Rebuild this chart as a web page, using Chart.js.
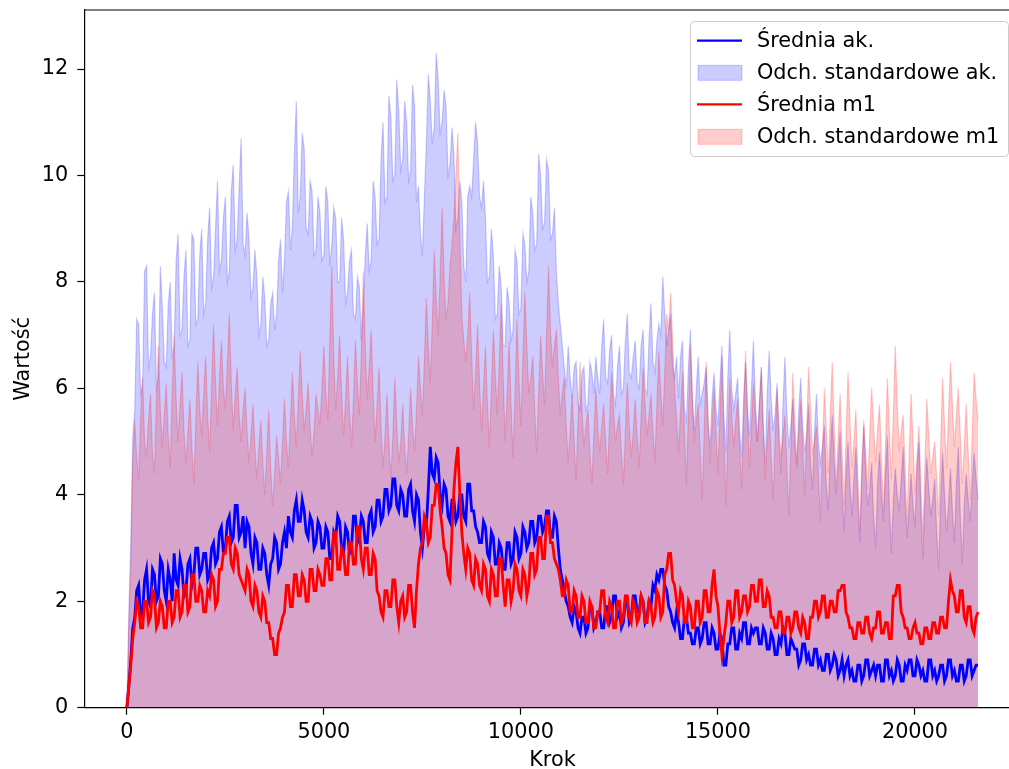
<!DOCTYPE html>
<html>
<head>
<meta charset="utf-8">
<script src="https://cdn.jsdelivr.net/npm/chart.js@4.4.1/dist/chart.umd.min.js"></script>
<style>
  body { margin: 0; background: #fff; }
  #wrap { width: 1009px; height: 769px; overflow: hidden; }
</style>
</head>
<body>
<div id="wrap"><canvas id="chart" width="1022" height="769"></canvas></div>
<script>
// one sample every 50 steps, 0 .. 21600
const STEP = 50

// mean of "ak." run
const meanAk = [
  0, 0.4, 0.9, 1.5, 1.7, 2.2, 2.3, 1.7, 1.8, 2.4, 2.6, 2.0, 1.9, 2.6, 2.5, 2.0, 2.1, 2.8, 2.7, 2.2,
  2.0, 2.6, 2.4, 2.0, 2.9, 2.4, 2.3, 2.8, 2.6, 2.1, 2.2, 2.7, 2.8, 2.3, 2.5, 3.0, 3.0, 2.5, 2.6, 2.9,
  2.9, 2.4, 2.5, 3.0, 3.1, 2.7, 2.8, 3.3, 3.4, 2.9, 3.0, 3.5, 3.6, 3.1, 3.2, 3.8, 3.8, 3.2, 3.3, 3.6,
  3.0, 3.5, 3.4, 2.9, 2.7, 3.2, 3.1, 2.6, 2.6, 3.0, 2.9, 2.5, 2.3, 2.7, 2.8, 3.2, 3.1, 2.6, 2.7, 3.1,
  3.3, 3.0, 3.6, 3.3, 3.2, 3.7, 3.9, 3.5, 3.5, 3.9, 3.7, 3.3, 3.2, 3.6, 3.5, 3.0, 3.1, 3.5, 3.4, 3.0,
  3.0, 3.4, 3.3, 2.8, 2.8, 3.3, 3.2, 3.6, 3.5, 3.0, 2.9, 3.4, 3.3, 2.9, 3.0, 3.6, 3.6, 3.1, 3.2, 3.6,
  3.5, 3.1, 3.1, 3.6, 3.7, 3.3, 3.4, 3.9, 3.9, 3.5, 3.6, 4.1, 4.1, 3.7, 3.8, 4.3, 4.3, 3.8, 3.7, 4.1,
  4.0, 3.6, 3.6, 4.1, 4.2, 3.7, 3.5, 4.0, 3.9, 3.3, 3.0, 3.4, 3.4, 4.1, 4.9, 4.4, 4.3, 4.7, 4.6, 4.0,
  3.8, 4.2, 4.1, 3.6, 3.5, 3.9, 3.9, 3.5, 3.6, 4.0, 4.0, 3.6, 3.5, 4.2, 4.2, 3.7, 3.7, 3.4, 3.3, 3.1,
  3.1, 3.5, 3.4, 2.9, 2.8, 3.3, 3.2, 2.7, 2.7, 3.1, 3.0, 2.6, 2.6, 3.1, 3.1, 2.7, 2.8, 3.3, 3.2, 2.8,
  2.9, 3.4, 3.3, 3.0, 3.1, 3.5, 3.5, 3.1, 3.2, 3.6, 3.6, 3.3, 3.4, 3.7, 3.7, 3.2, 3.2, 3.6, 3.5, 3.0,
  2.6, 2.4, 2.2, 2.0, 1.9, 1.7, 1.6, 1.9, 1.8, 1.5, 1.4, 1.7, 1.7, 1.4, 1.5, 1.9, 1.9, 1.5, 1.6, 1.8,
  1.8, 1.5, 1.5, 1.9, 1.9, 1.6, 1.7, 2.1, 2.1, 1.7, 1.8, 1.5, 1.6, 2.0, 2.0, 1.6, 1.7, 2.1, 2.1, 1.8,
  1.8, 2.1, 2.0, 1.6, 1.7, 2.0, 1.9, 2.3, 2.2, 2.5, 2.4, 2.6, 2.6, 2.3, 2.2, 1.9, 1.8, 1.6, 1.5, 1.8,
  1.6, 1.3, 1.3, 1.7, 1.7, 1.4, 1.4, 1.2, 1.2, 1.5, 1.5, 1.2, 1.3, 1.6, 1.6, 1.2, 1.2, 1.5, 1.4, 1.1,
  1.1, 1.4, 1.3, 0.8, 0.8, 1.2, 1.2, 1.5, 1.5, 1.1, 1.1, 1.4, 1.3, 1.6, 1.6, 1.2, 1.2, 1.5, 1.4, 1.5,
  1.5, 1.2, 1.2, 1.5, 1.4, 1.1, 1.1, 1.4, 1.3, 1.0, 1.0, 1.3, 1.2, 1.5, 1.4, 1.0, 1.0, 1.3, 1.2, 1.1,
  1.1, 0.8, 0.9, 1.2, 1.2, 0.9, 1.0, 0.8, 0.8, 1.1, 1.1, 0.8, 0.9, 0.7, 0.7, 1.0, 1.0, 0.7, 0.8, 1.0,
  0.9, 0.6, 0.7, 0.9, 0.6, 0.8, 0.9, 0.6, 0.7, 0.5, 0.5, 0.8, 0.8, 0.5, 0.6, 0.9, 0.9, 0.6, 0.7, 0.8,
  0.6, 0.8, 0.8, 0.5, 0.5, 0.9, 0.9, 0.6, 0.7, 0.5, 0.6, 0.9, 0.8, 0.5, 0.5, 0.8, 0.7, 0.9, 0.9, 0.6,
  0.6, 0.9, 0.8, 0.6, 0.7, 0.5, 0.5, 0.9, 0.9, 0.6, 0.7, 0.5, 0.6, 0.8, 0.8, 0.5, 0.6, 0.9, 0.9, 0.6,
  0.7, 0.5, 0.5, 0.8, 0.8, 0.5, 0.6, 0.9, 0.9, 0.6, 0.7, 0.8, 0.8
]

// mean + std of "ak." (the band is filled down to the axis)
const upperAk = [
  0, 1.8, 3.2, 5.1, 5.6, 7.3, 7.2, 5.9, 6.1, 8.2, 8.3, 6.4, 6.6, 7.4, 7.8, 6.0, 6.2, 8.3, 7.5, 6.5,
  6.4, 7.6, 8.0, 6.6, 6.8, 8.4, 8.9, 7.0, 7.1, 8.1, 8.6, 6.8, 6.9, 8.9, 8.8, 7.2, 7.3, 8.5, 9.0, 7.4,
  7.6, 8.8, 9.4, 7.9, 8.1, 9.0, 9.9, 8.2, 8.4, 9.2, 9.6, 8.0, 8.2, 9.7, 10.2, 8.6, 8.8, 9.8, 10.7, 8.7,
  8.5, 9.3, 8.8, 7.7, 7.9, 8.6, 8.1, 7.0, 7.2, 8.1, 7.7, 6.8, 6.9, 7.6, 7.8, 7.1, 7.4, 8.4, 8.8, 7.8,
  8.4, 9.5, 9.7, 8.6, 9.0, 10.4, 11.4, 9.3, 9.6, 10.8, 10.5, 9.0, 8.9, 9.9, 9.7, 8.5, 8.6, 9.6, 9.3, 8.4,
  8.5, 9.8, 9.5, 8.3, 8.7, 9.4, 9.2, 8.0, 8.0, 9.2, 8.8, 7.6, 7.8, 8.4, 8.6, 7.4, 7.3, 8.1, 7.9, 6.9,
  7.6, 8.5, 9.1, 8.2, 8.4, 9.9, 9.6, 8.7, 8.8, 10.3, 11.0, 9.5, 9.6, 11.5, 11.1, 9.9, 10.0, 11.8, 11.2, 10.1,
  10.3, 11.4, 11.0, 9.9, 10.1, 11.7, 11.3, 9.5, 9.8, 8.9, 8.5, 9.6, 10.6, 11.9, 11.4, 10.6, 10.9, 12.3, 11.8, 10.8,
  11.0, 11.6, 11.3, 10.0, 10.2, 10.9, 10.4, 9.0, 9.2, 9.9, 9.5, 8.3, 8.0, 9.6, 9.8, 9.6, 10.3, 11.0, 10.6, 9.6,
  9.4, 9.9, 9.2, 8.0, 8.1, 9.0, 8.5, 7.3, 7.4, 8.3, 7.9, 6.8, 6.8, 7.9, 7.6, 6.9, 7.1, 8.6, 8.4, 7.4,
  7.5, 8.9, 8.7, 8.0, 8.2, 9.6, 9.3, 8.6, 8.7, 10.4, 10.0, 9.0, 9.1, 10.3, 10.1, 8.8, 8.9, 9.4, 8.2, 7.6,
  7.2, 6.8, 6.4, 6.0, 6.8, 6.2, 5.8, 6.4, 6.5, 5.7, 5.6, 6.3, 6.4, 5.6, 5.7, 6.5, 6.3, 5.9, 6.6, 6.2,
  5.9, 6.8, 7.3, 6.2, 6.1, 6.7, 7.0, 5.9, 5.7, 6.4, 6.8, 5.9, 6.0, 6.9, 7.4, 6.3, 6.2, 6.6, 6.9, 6.1,
  6.0, 6.8, 7.1, 6.0, 5.9, 6.9, 7.6, 6.5, 6.3, 6.9, 7.2, 7.0, 8.1, 7.4, 6.8, 7.1, 7.4, 6.4, 6.2, 6.6,
  5.8, 6.6, 6.9, 5.6, 5.4, 6.4, 7.1, 5.8, 5.2, 6.0, 6.6, 5.7, 5.9, 6.1, 6.4, 5.3, 4.9, 5.8, 6.3, 5.6,
  5.3, 6.1, 6.8, 5.5, 4.8, 6.2, 7.1, 6.0, 5.6, 5.9, 6.2, 5.2, 4.7, 5.8, 6.5, 5.6, 5.1, 6.0, 6.9, 5.8,
  5.0, 5.7, 6.4, 5.3, 4.6, 5.9, 6.7, 5.8, 5.2, 5.5, 6.1, 5.0, 4.4, 5.7, 6.6, 5.5, 4.9, 5.3, 5.8, 5.0,
  4.5, 5.6, 6.2, 5.3, 4.8, 5.1, 5.7, 4.6, 4.1, 5.2, 5.9, 5.0, 4.6, 4.9, 5.3, 4.2, 3.7, 4.8, 5.5, 4.6,
  4.0, 4.6, 5.2, 4.1, 3.3, 4.4, 5.0, 4.2, 3.6, 4.3, 4.9, 3.9, 3.1, 4.5, 5.3, 4.4, 3.8, 4.1, 4.6, 3.6,
  3.0, 4.2, 4.8, 4.0, 3.5, 4.4, 5.1, 3.8, 2.9, 3.9, 4.5, 4.0, 3.7, 4.3, 4.9, 3.9, 3.2, 3.8, 4.4, 3.8,
  3.4, 4.5, 5.0, 3.7, 2.8, 3.9, 4.7, 4.1, 3.6, 3.9, 4.3, 3.3, 2.6, 3.9, 4.8, 4.0, 3.3, 3.8, 4.5, 3.7,
  3.1, 4.2, 4.9, 3.6, 2.7, 3.8, 4.4, 3.9, 3.5, 4.2, 4.8, 4.3, 3.9
]

// mean of "m1" run
const meanM1 = [
  0, 0.4, 0.8, 1.3, 1.6, 2.0, 1.9, 1.5, 1.5, 2.0, 2.0, 1.6, 1.7, 2.2, 2.1, 1.5, 1.6, 2.0, 1.9, 1.5,
  1.5, 2.0, 2.0, 1.6, 1.7, 2.2, 2.2, 1.7, 1.8, 2.3, 2.3, 1.8, 1.9, 2.5, 2.5, 2.0, 2.0, 2.3, 2.2, 1.8,
  1.8, 2.2, 2.1, 2.5, 2.4, 1.9, 2.0, 2.6, 2.6, 2.9, 2.9, 3.2, 3.2, 2.7, 2.6, 3.0, 2.9, 2.5, 2.4, 2.3,
  2.2, 2.6, 2.5, 2.0, 1.9, 2.3, 2.2, 1.8, 1.7, 2.1, 2.0, 1.6, 1.6, 1.3, 1.3, 1.0, 1.0, 1.4, 1.5, 1.7,
  1.8, 2.3, 2.3, 1.9, 1.9, 2.5, 2.5, 2.1, 2.1, 2.5, 2.4, 2.0, 2.0, 2.6, 2.6, 2.2, 2.2, 2.6, 2.5, 2.3,
  2.3, 2.8, 2.8, 2.4, 2.4, 3.3, 3.3, 2.6, 2.6, 3.0, 2.9, 2.5, 2.5, 3.1, 3.1, 2.7, 2.7, 3.4, 3.4, 2.8,
  2.6, 3.0, 3.0, 2.5, 2.5, 2.9, 2.8, 2.2, 2.1, 1.8, 1.7, 2.2, 2.2, 1.9, 1.9, 2.4, 2.4, 1.9, 1.6, 2.0,
  2.1, 1.7, 1.8, 2.3, 2.3, 1.8, 1.5, 2.2, 2.7, 3.0, 3.1, 3.6, 3.5, 3.1, 3.2, 3.8, 3.8, 4.2, 4.2, 3.7,
  3.4, 3.0, 2.9, 2.5, 2.4, 3.3, 4.1, 4.6, 4.9, 4.0, 3.3, 2.9, 2.6, 3.0, 2.9, 2.4, 2.3, 2.8, 2.7, 2.3,
  2.2, 2.7, 2.6, 2.1, 2.0, 2.6, 2.5, 2.1, 2.1, 2.8, 2.8, 2.3, 1.9, 2.4, 2.4, 2.0, 2.2, 2.7, 2.6, 2.2,
  2.1, 2.6, 2.5, 2.1, 2.3, 2.9, 2.9, 2.5, 2.6, 3.2, 3.2, 2.8, 2.8, 3.6, 3.6, 3.1, 3.1, 2.8, 2.7, 2.6,
  2.4, 2.1, 2.1, 2.4, 2.3, 1.8, 1.8, 2.2, 2.1, 1.7, 1.7, 2.1, 2.0, 1.6, 1.6, 2.0, 1.9, 1.5, 1.5, 1.8,
  1.8, 2.2, 2.2, 1.7, 1.6, 2.0, 1.9, 1.5, 1.5, 2.0, 2.0, 1.6, 1.7, 2.1, 2.1, 1.7, 1.6, 2.0, 1.9, 1.6,
  1.7, 2.1, 2.0, 1.6, 1.6, 2.0, 1.9, 1.6, 1.7, 2.2, 2.1, 1.7, 1.8, 2.5, 2.6, 2.9, 2.9, 2.4, 2.3, 2.0,
  1.8, 2.2, 2.1, 1.6, 1.6, 2.0, 1.9, 1.5, 1.5, 2.0, 2.0, 1.6, 1.7, 2.2, 2.2, 1.8, 1.8, 2.3, 2.6, 2.1,
  1.9, 1.4, 1.0, 1.3, 1.6, 2.0, 2.0, 1.6, 1.7, 2.2, 2.2, 1.7, 1.8, 2.1, 2.1, 1.8, 1.9, 2.3, 2.3, 2.0,
  2.0, 2.4, 2.4, 1.9, 1.9, 2.2, 2.1, 1.7, 1.7, 1.5, 1.5, 1.8, 1.8, 1.4, 1.4, 1.7, 1.7, 1.4, 1.5, 1.8,
  1.8, 1.5, 1.4, 1.7, 1.6, 1.3, 1.3, 1.7, 1.7, 2.0, 2.0, 1.7, 1.8, 2.1, 2.1, 1.7, 1.7, 2.0, 2.0, 1.8,
  1.8, 2.2, 2.2, 2.3, 2.3, 1.8, 1.7, 1.5, 1.5, 1.3, 1.3, 1.6, 1.6, 1.4, 1.4, 1.7, 1.7, 1.4, 1.3, 1.5,
  1.5, 1.8, 1.8, 1.4, 1.4, 1.6, 1.6, 1.3, 1.3, 2.1, 2.1, 2.3, 2.3, 1.8, 1.7, 1.5, 1.5, 1.3, 1.3, 1.5,
  1.6, 1.4, 1.4, 1.2, 1.2, 1.5, 1.5, 1.3, 1.3, 1.6, 1.6, 1.4, 1.4, 1.7, 1.7, 1.5, 1.5, 2.0, 2.4, 2.2,
  2.1, 1.8, 1.8, 2.2, 2.2, 1.7, 1.6, 1.9, 1.9, 1.5, 1.4, 1.7, 1.8
]

// mean + std of "m1"
const upperM1 = [
  0, 1.5, 2.6, 4.6, 5.4, 4.7, 4.3, 5.5, 6.2, 5.0, 4.7, 5.4, 5.9, 4.8, 4.4, 5.8, 6.8, 5.6, 4.9, 5.5,
  6.1, 5.1, 4.5, 5.9, 7.0, 5.8, 5.0, 5.7, 6.3, 5.2, 4.6, 5.2, 5.8, 4.9, 4.2, 5.4, 6.5, 5.6, 5.1, 5.9,
  6.6, 5.5, 4.8, 6.0, 7.2, 6.1, 5.3, 6.2, 6.9, 6.0, 5.6, 6.5, 7.4, 6.1, 5.2, 5.9, 6.4, 5.5, 5.0, 5.6,
  6.0, 5.2, 4.6, 5.1, 5.7, 4.9, 4.3, 4.9, 5.4, 4.6, 4.0, 4.8, 5.6, 4.5, 3.8, 4.4, 5.1, 4.7, 4.2, 5.0,
  5.8, 5.0, 4.5, 5.4, 6.3, 5.5, 4.9, 5.8, 6.7, 5.9, 5.2, 5.6, 6.1, 5.3, 4.7, 5.2, 5.9, 5.6, 5.3, 6.0,
  6.8, 5.9, 5.4, 6.9, 8.3, 6.6, 5.6, 6.2, 7.0, 5.9, 5.1, 5.8, 6.6, 5.6, 4.9, 5.8, 6.9, 6.1, 5.5, 6.7,
  8.2, 6.8, 5.8, 6.4, 7.1, 5.9, 5.0, 5.7, 6.4, 5.3, 4.5, 5.1, 5.9, 5.0, 4.3, 5.1, 6.2, 5.3, 4.6, 5.0,
  5.7, 4.9, 4.4, 5.1, 6.0, 5.3, 4.8, 5.6, 6.6, 6.0, 5.5, 6.5, 7.7, 6.8, 6.1, 7.2, 8.6, 7.7, 7.0, 8.1,
  9.4, 8.1, 7.3, 7.6, 8.3, 8.7, 9.2, 10.0, 10.8, 8.8, 7.4, 6.9, 6.5, 7.0, 7.8, 6.6, 5.6, 6.3, 7.2, 6.1,
  5.2, 6.0, 6.8, 5.7, 4.9, 6.0, 7.1, 6.3, 5.5, 6.5, 7.6, 6.2, 5.0, 5.9, 6.9, 5.7, 4.7, 5.9, 7.3, 6.2,
  5.3, 6.6, 7.8, 6.8, 5.9, 6.2, 6.6, 5.6, 4.8, 5.9, 7.0, 6.3, 5.7, 7.0, 8.3, 7.1, 6.4, 6.8, 7.1, 6.2,
  5.5, 5.9, 6.2, 5.3, 4.6, 5.2, 5.9, 5.0, 4.3, 5.4, 6.5, 5.6, 4.9, 5.3, 5.6, 4.8, 4.2, 5.1, 6.0, 5.3,
  4.8, 5.3, 5.7, 5.0, 4.4, 5.4, 6.3, 5.6, 5.0, 5.3, 5.5, 4.8, 4.2, 5.2, 6.1, 5.3, 4.7, 5.2, 5.8, 5.1,
  4.5, 5.5, 6.4, 5.7, 5.1, 5.5, 5.9, 5.2, 4.6, 5.7, 6.7, 5.9, 5.3, 6.3, 7.4, 7.1, 7.8, 6.9, 6.0, 5.4,
  4.8, 5.6, 6.3, 5.2, 4.2, 5.5, 6.8, 5.9, 5.0, 5.4, 5.7, 4.8, 3.9, 5.2, 6.5, 5.5, 4.6, 5.3, 6.0, 5.2,
  4.4, 5.5, 6.6, 5.2, 3.8, 5.0, 6.2, 5.5, 4.9, 5.4, 5.8, 4.9, 4.1, 5.4, 6.7, 5.6, 4.5, 5.3, 6.1, 5.5,
  5.0, 5.7, 6.4, 5.3, 4.3, 5.0, 5.6, 4.7, 3.9, 5.0, 6.0, 5.3, 4.7, 5.1, 5.5, 4.5, 3.6, 4.9, 6.3, 5.4,
  4.6, 5.2, 5.8, 4.9, 4.0, 5.2, 6.4, 5.6, 4.8, 5.0, 5.3, 4.4, 3.5, 4.8, 6.0, 5.2, 4.4, 5.5, 6.5, 5.3,
  4.2, 5.1, 5.9, 4.8, 3.8, 5.1, 6.3, 5.4, 4.5, 5.0, 5.6, 4.4, 3.3, 4.4, 5.4, 4.8, 4.1, 5.1, 6.0, 5.3,
  4.6, 5.2, 5.7, 4.7, 3.7, 4.9, 6.2, 5.2, 4.3, 5.5, 6.8, 5.7, 4.8, 5.2, 5.5, 4.5, 3.5, 4.7, 5.9, 5.0,
  4.0, 4.7, 5.3, 4.2, 3.2, 4.5, 5.8, 5.1, 4.4, 4.7, 5.0, 4.3, 3.6, 4.9, 6.2, 5.3, 4.5, 5.5, 6.5, 5.7,
  4.9, 5.5, 6.0, 5.1, 4.2, 4.9, 5.7, 4.8, 3.9, 5.1, 6.3, 5.8, 5.4
]

const xTicks = [0, 5000, 10000, 15000, 20000]
const yTicks = [0, 2, 4, 6, 8, 10, 12]
const labels = ['Średnia ak.', 'Odch. standardowe ak.', 'Średnia m1', 'Odch. standardowe m1']

const FONT = 'DejaVu Sans'
const FONT_SIZE = 20.8

function toPoints(values) {
    return values.map((v, i) => ({ x: i * STEP, y: v }))
}

// matplotlib-like frame: top spine + legend box in the upper right corner
const framePlugin = {
    id: 'frame',
    afterDraw(chart) {
        const { ctx, chartArea } = chart
        ctx.save()
        ctx.strokeStyle = '#000'
        ctx.lineWidth = 1.2
        ctx.beginPath()
        ctx.moveTo(chartArea.left, chartArea.top)
        ctx.lineTo(chartArea.right, chartArea.top)
        ctx.stroke()

        // legend
        const bx = 690, by = 21, bw = 318, bh = 135, r = 4
        ctx.fillStyle = 'rgba(255,255,255,0.8)'
        ctx.strokeStyle = '#cccccc'
        ctx.lineWidth = 1
        ctx.beginPath()
        ctx.roundRect(bx + 0.5, by + 0.5, bw, bh, r)
        ctx.fill()
        ctx.stroke()

        const rows = [40.7, 72.8, 104.3, 136.8]
        const kinds = [
            { line: 'rgb(0,0,255)' },
            { fill: 'rgba(0,0,255,0.2)' },
            { line: 'rgb(255,0,0)' },
            { fill: 'rgba(255,0,0,0.2)' }
        ]
        ctx.font = FONT_SIZE + 'px ' + FONT
        ctx.textBaseline = 'middle'
        ctx.textAlign = 'left'
        rows.forEach((y, i) => {
            const k = kinds[i]
            if (k.line) {
                ctx.strokeStyle = k.line
                ctx.lineWidth = 2.2
                ctx.beginPath()
                ctx.moveTo(697, y)
                ctx.lineTo(742, y)
                ctx.stroke()
            } else {
                ctx.fillStyle = k.fill
                ctx.strokeStyle = k.fill
                ctx.lineWidth = 1
                ctx.fillRect(698, y - 7.5, 44, 15)
                ctx.strokeRect(698, y - 7.5, 44, 15)
            }
            ctx.fillStyle = '#000'
            ctx.fillText(labels[i], 757, y + 1)
        })
        ctx.restore()
    }
}

const ctx = document.getElementById('chart').getContext('2d')

new Chart(ctx, {
    type: 'line',
    data: {
        datasets: [
            {
                label: labels[0],
                data: toPoints(meanAk),
                borderColor: 'rgb(0,0,255)',
                borderWidth: 2.8,
                pointRadius: 0,
                fill: false,
                order: 2
            },
            {
                label: labels[1],
                data: toPoints(upperAk),
                borderColor: 'rgba(0,0,255,0.2)',
                backgroundColor: 'rgba(0,0,255,0.2)',
                borderWidth: 1.2,
                pointRadius: 0,
                fill: 'origin',
                order: 4
            },
            {
                label: labels[2],
                data: toPoints(meanM1),
                borderColor: 'rgb(255,0,0)',
                borderWidth: 2.8,
                pointRadius: 0,
                fill: false,
                order: 1
            },
            {
                label: labels[3],
                data: toPoints(upperM1),
                borderColor: 'rgba(255,0,0,0.2)',
                backgroundColor: 'rgba(255,0,0,0.2)',
                borderWidth: 1.2,
                pointRadius: 0,
                fill: 'origin',
                order: 3
            }
        ]
    },
    options: {
        responsive: false,
        animation: false,
        devicePixelRatio: 1,
        layout: { autoPadding: false, padding: { left: 0, top: 10, right: 1.4, bottom: 0 } },
        plugins: {
            legend: { display: false },
            tooltip: { enabled: false }
        },
        scales: {
            x: {
                type: 'linear',
                min: -1080,
                max: 22680,
                afterBuildTicks: scale => { scale.ticks = xTicks.map(v => ({ value: v })) },
                afterFit: scale => {
                    scale.height = 61.3
                    scale.paddingLeft = 0
                    scale.paddingRight = 0
                },
                ticks: {
                    color: '#000',
                    font: { family: FONT, size: FONT_SIZE },
                    padding: 5,
                    maxRotation: 0,
                    callback: v => String(v)
                },
                grid: { drawOnChartArea: false, drawTicks: true, tickLength: 7, color: '#000', tickWidth: 1.2 },
                border: { display: true, color: '#000', width: 1.2 },
                title: {
                    display: true,
                    text: 'Krok',
                    color: '#000',
                    font: { family: FONT, size: FONT_SIZE, lineHeight: 0.8 },
                    padding: { top: 0, bottom: 0 }
                }
            },
            y: {
                min: 0,
                max: 13.11,
                afterBuildTicks: scale => { scale.ticks = yTicks.map(v => ({ value: v })) },
                afterFit: scale => {
                    scale.width = 84.3
                    scale.paddingTop = 0
                    scale.paddingBottom = 0
                },
                ticks: {
                    color: '#000',
                    font: { family: FONT, size: FONT_SIZE },
                    padding: 9,
                    callback: v => String(v)
                },
                grid: { drawOnChartArea: false, drawTicks: true, tickLength: 7, color: '#000', tickWidth: 1.2 },
                border: { display: true, color: '#000', width: 1.2 },
                title: {
                    display: true,
                    text: 'Wartość',
                    color: '#000',
                    font: { family: FONT, size: FONT_SIZE, lineHeight: 1.2 },
                    padding: { top: 11, bottom: 0 }
                }
            }
        }
    },
    plugins: [framePlugin]
})
</script>
</body>
</html>
